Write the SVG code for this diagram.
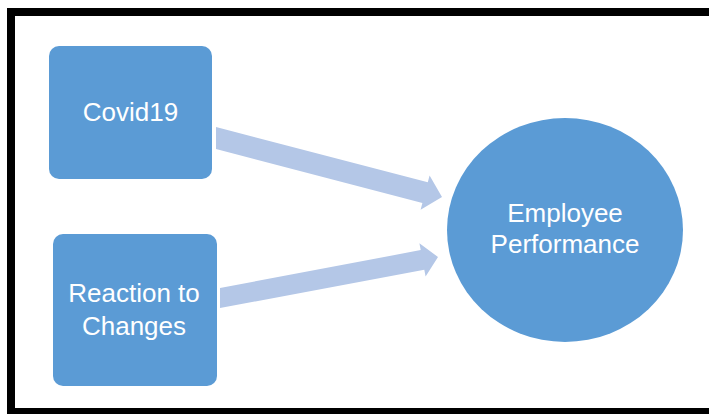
<svg xmlns="http://www.w3.org/2000/svg" width="709" height="414" viewBox="0 0 709 414">
<style>
.node{fill:#5B9BD5}
.arrow{fill:#B4C7E7}
.lbl{font-family:"Liberation Sans",Arial,sans-serif;font-size:26px;fill:#FFFFFF;text-anchor:middle}
.frame{fill:#000000}
</style>
<rect x="0" y="0" width="709" height="414" fill="#FFFFFF"/>
<g id="frame">
<rect class="frame" x="7" y="8" width="702" height="8"/>
<rect class="frame" x="7" y="8" width="8" height="406"/>
<rect class="frame" x="7" y="408" width="702" height="6"/>
</g>
<g id="connectors">
<polygon class="arrow" points="216,127 427.8,182.3 429.6,175.5 442,197 420.6,209.7 422.4,202.9 216,149"/>
<polygon class="arrow" points="220,288 420.7,250.1 419.4,243.2 438,257 425.6,276.6 424.3,269.7 220,308"/>
</g>
<g id="covid19">
<rect class="node" x="49" y="46" width="163" height="133" rx="10"/>
<text class="lbl" x="130.5" y="121">Covid19</text>
</g>
<g id="reaction">
<rect class="node" x="53" y="234" width="164" height="152" rx="10"/>
<text class="lbl" x="134" y="302">Reaction to</text>
<text class="lbl" x="134" y="335">Changes</text>
</g>
<g id="performance">
<ellipse class="node" cx="565" cy="230" rx="118" ry="112"/>
<text class="lbl" x="565" y="222">Employee</text>
<text class="lbl" x="565" y="253">Performance</text>
</g>
</svg>
